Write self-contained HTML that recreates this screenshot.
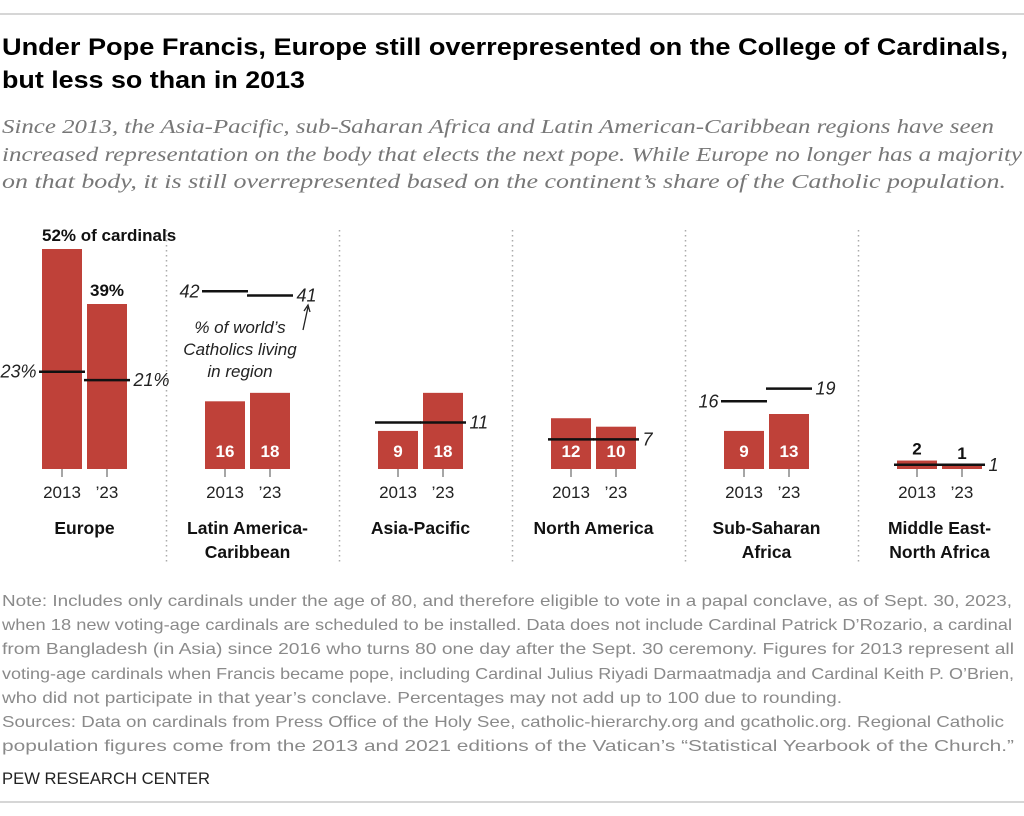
<!DOCTYPE html>
<html><head><meta charset="utf-8"><style>
body{margin:0;background:#fff}
svg{display:block}
.sans{font-family:"Liberation Sans",sans-serif}
.serif{font-family:"Liberation Serif",serif}
</style></head><body>
<svg id="chart" width="1024" height="816" viewBox="0 0 1024 816" xmlns="http://www.w3.org/2000/svg" class="sans" font-family="Liberation Sans, sans-serif">
<line x1="0" y1="14" x2="1024" y2="14" stroke="#c8c8c8" stroke-width="1.5"/>
<g font-weight="bold" font-size="24" fill="#000">
<text x="2" y="55" textLength="1006" lengthAdjust="spacingAndGlyphs">Under Pope Francis, Europe still overrepresented on the College of Cardinals,</text>
<text x="2" y="88" textLength="303" lengthAdjust="spacingAndGlyphs">but less so than in 2013</text>
</g>
<g class="serif" style="font-family:'Liberation Serif',serif" font-style="italic" font-size="20" fill="#777">
<text x="2" y="133" textLength="992" lengthAdjust="spacingAndGlyphs">Since 2013, the Asia-Pacific, sub-Saharan Africa and Latin American-Caribbean regions have seen</text>
<text x="2" y="161" textLength="1020" lengthAdjust="spacingAndGlyphs">increased representation on the body that elects the next pope. While Europe no longer has a majority</text>
<text x="2" y="188" textLength="1004" lengthAdjust="spacingAndGlyphs">on that body, it is still overrepresented based on the continent’s share of the Catholic population.</text>
</g>
<g id="plot"></g>
<g font-size="16" fill="#8a8a8a">
<text x="2" y="606" textLength="1010" lengthAdjust="spacingAndGlyphs">Note: Includes only cardinals under the age of 80, and therefore eligible to vote in a papal conclave, as of Sept. 30, 2023,</text>
<text x="2" y="630" textLength="1010" lengthAdjust="spacingAndGlyphs">when 18 new voting-age cardinals are scheduled to be installed. Data does not include Cardinal Patrick D’Rozario, a cardinal</text>
<text x="2" y="654" textLength="1012" lengthAdjust="spacingAndGlyphs">from Bangladesh (in Asia) since 2016 who turns 80 one day after the Sept. 30 ceremony. Figures for 2013 represent all</text>
<text x="2" y="679" textLength="1012" lengthAdjust="spacingAndGlyphs">voting-age cardinals when Francis became pope, including Cardinal Julius Riyadi Darmaatmadja and Cardinal Keith P. O’Brien,</text>
<text x="2" y="703" textLength="840" lengthAdjust="spacingAndGlyphs">who did not participate in that year’s conclave. Percentages may not add up to 100 due to rounding.</text>
<text x="2" y="727" textLength="1002" lengthAdjust="spacingAndGlyphs">Sources: Data on cardinals from Press Office of the Holy See, catholic-hierarchy.org and gcatholic.org. Regional Catholic</text>
<text x="2" y="751" textLength="1012" lengthAdjust="spacingAndGlyphs">population figures come from the 2013 and 2021 editions of the Vatican’s “Statistical Yearbook of the Church.”</text>
</g>
<text x="2" y="784" font-size="17" fill="#222" textLength="208" lengthAdjust="spacingAndGlyphs">PEW RESEARCH CENTER</text>
<line x1="0" y1="802" x2="1024" y2="802" stroke="#c8c8c8" stroke-width="1.5"/>
</svg>
<script>
const regions = ["Europe","Latin America-|Caribbean","Asia-Pacific","North America","Sub-Saharan|Africa","Middle East-|North Africa"];
const cardinals2013 = [52,16,9,12,9,2];
const cardinals2023 = [39,18,18,10,13,1];
const catholics2013 = [23,42,11,7,16,1];
const catholics2023 = [21,41,11,7,19,1];
const yearLabels = ["2013","’23"];

const NS="http://www.w3.org/2000/svg";
const plot=document.getElementById('plot');
const base=469, k=220/52;
const y=v=>base-v*k;
const cx=i=> i===0 ? 84.5 : 247.5+173*(i-1);
function mk(tag,attrs,txt){const e=document.createElementNS(NS,tag);for(const a in attrs)e.setAttribute(a,attrs[a]);if(txt!=null)e.textContent=txt;plot.appendChild(e);return e;}

for(let i=1;i<6;i++){
  const dx=cx(i)-81;
  const d=mk('line',{x1:dx,y1:230,x2:dx,y2:562,stroke:'#aaa','stroke-width':1.5,'stroke-dasharray':'1.5,3.5'});
  
  
}

regions.forEach((r,i)=>{
  const c=cx(i);
  const vals=[cardinals2013[i],cardinals2023[i]];
  const cath=[catholics2013[i],catholics2023[i]];
  vals.forEach((v,j)=>{
    const x0=j===0?c-42.5:c+2.5;
    const b=mk('rect',{x:x0,y:y(v),width:40,height:base-y(v),fill:'#bf4139'});
    
    
    const t=mk('line',{x1:x0+20,y1:base,x2:x0+20,y2:base+8,stroke:'#888','stroke-width':1.5});
    
    
    const yl=mk('text',{x:x0+20,y:498,'text-anchor':'middle','font-size':17,fill:'#222'},yearLabels[j]);
    
    
    let lbl;
    if(i===0){
      lbl=mk('text',{x:j===0?c-42.5:x0+20,y:y(v)-8,'text-anchor':j===0?'start':'middle','font-size':17,'font-weight':'bold',fill:'#111'},j===0?v+'% of cardinals':v+'%');
    }else if(i===5){
      lbl=mk('text',{x:x0+20,y:y(v)-6,'text-anchor':'middle','font-size':17,'font-weight':'bold',fill:'#111'},v);
    }else{
      lbl=mk('text',{x:x0+20,y:457,'text-anchor':'middle','font-size':17,'font-weight':'bold',fill:'#fff'},v);
    }
    
    
    const cl=mk('line',{x1:x0-3,y1:y(cath[j]),x2:x0+43,y2:y(cath[j]),stroke:'#111','stroke-width':2.5});
    
    
  });
  const suf=i===0?'%':'';
  const showLeft = cath[0]!==cath[1] || i===0;
  if(showLeft){
    const l=mk('text',{x:c-48,y:y(cath[0])+6,'text-anchor':'end','font-size':18,'font-style':'italic',fill:'#222'},cath[0]+suf);
    
    
  }
  const r2=mk('text',{x:c+49,y:y(cath[1])+6,'font-size':18,'font-style':'italic',fill:'#222'},cath[1]+suf);
  
  
  r.split('|').forEach((ln,q)=>{
    const t=mk('text',{x:c,y:534+q*24,'text-anchor':'middle','font-size':17.5,'font-weight':'bold',fill:'#111'},ln);
    
    
  });
});

const ann=["% of world’s","Catholics living","in region"];
ann.forEach((s,q)=>{
  const t=mk('text',{x:240,y:333+q*22,'text-anchor':'middle','font-size':17,'font-style':'italic',fill:'#222'},s);
  
  
});
const ar=mk('path',{d:'M303,330 L308,307 M304,311 L308,305 L310,312',stroke:'#222','stroke-width':1.3,fill:'none'});


</script>
</body></html>
